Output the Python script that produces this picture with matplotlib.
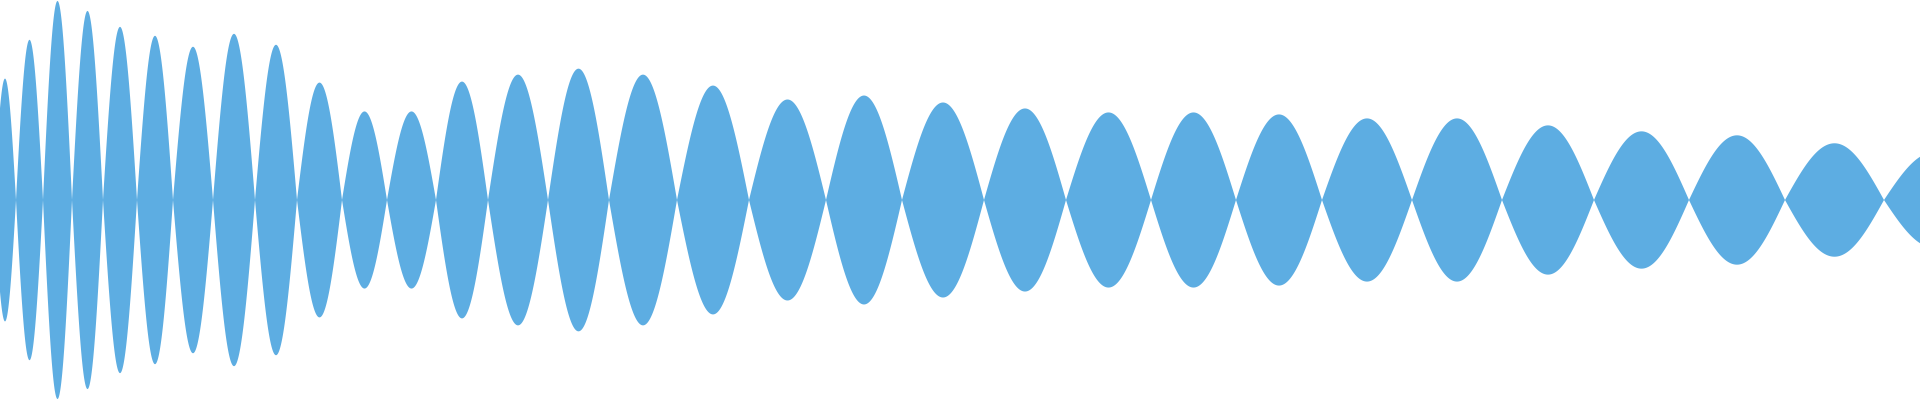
import numpy as np
import matplotlib
matplotlib.use("Agg")
import matplotlib.pyplot as plt

# zero crossings of the waveform (x, in px of the 1920 wide canvas)
crossings = [-6, 16, 43, 72, 103, 137, 173, 213, 255, 297, 342, 387, 436, 488,
             548, 609, 677, 749, 826, 902, 984, 1066, 1151, 1236, 1322, 1412,
             1502, 1594, 1689, 1785, 1884, 1984]
# peak height of each lobe between two crossings
amplitudes = [122, 161, 200, 190, 174, 165, 154, 167, 156, 118, 89, 89, 119, 126,
              132, 126, 115, 101, 105, 98, 92, 88, 88, 86, 82, 82, 75, 69, 65,
              57, 48]

color = "#5DADE2"

fig = plt.figure(figsize=(19.2, 4), dpi=100)
ax = fig.add_axes([0, 0, 1, 1])

# build the envelope lobe by lobe as half sines
xs, ys = [], []
for i, amp in enumerate(amplitudes):
    a, b = crossings[i], crossings[i + 1]
    t = np.linspace(0, 1, 80)
    xs.append(a + (b - a) * t)
    ys.append(amp * np.sin(np.pi * t))
x = np.concatenate(xs)
y = np.concatenate(ys)

ax.fill_between(x, -y, y, color=color, linewidth=0)

ax.set_xlim(0, 1920)
ax.set_ylim(-201, 201)
ax.axis("off")

fig.savefig("out.png", dpi=100, facecolor="white")
